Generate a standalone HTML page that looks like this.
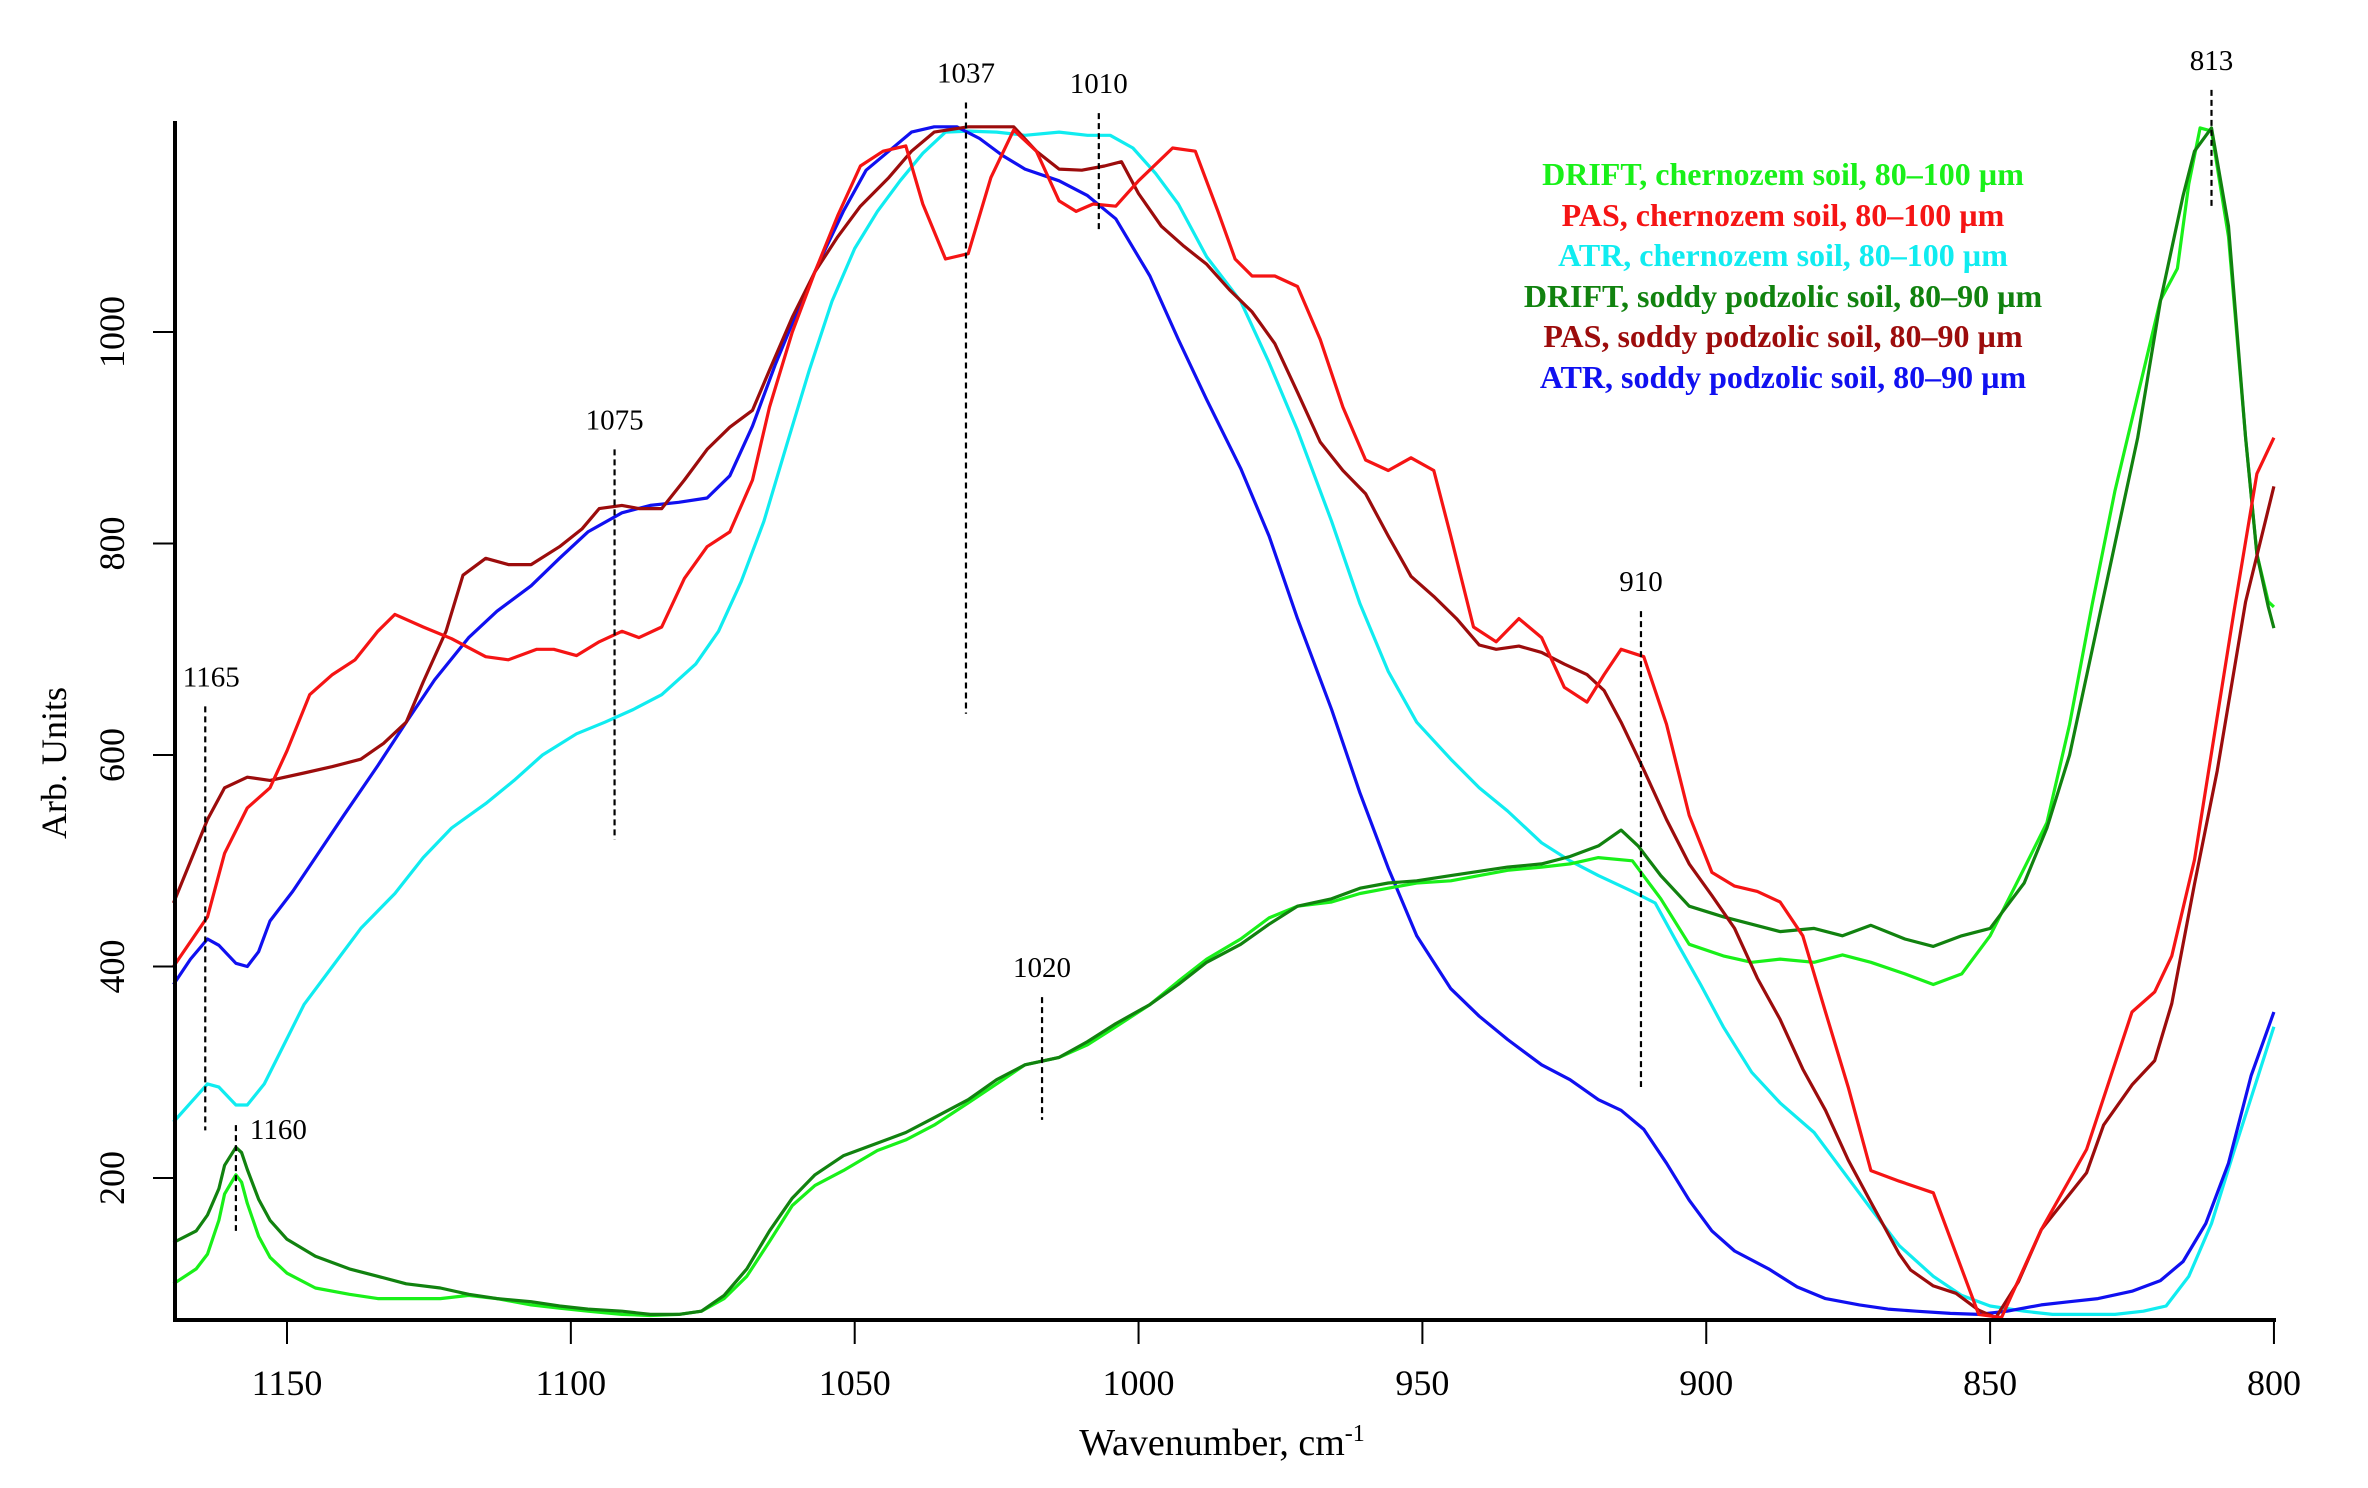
<!DOCTYPE html>
<html><head><meta charset="utf-8"><style>
html,body{margin:0;padding:0;background:#fff}
svg{display:block}
text{font-family:"Liberation Serif",serif}
</style></head><body>
<svg id="chart" width="2368" height="1488" viewBox="0 0 2368 1488" xmlns="http://www.w3.org/2000/svg">
<g id="plot"></g>
</svg>
<script>
const xTicks=[1150,1100,1050,1000,950,900,850,800];
const yTicks=[200,400,600,800,1000];
const seriesNames=["DRIFT, chernozem soil, 80–100 µm","PAS, chernozem soil, 80–100 µm","ATR, chernozem soil, 80–100 µm","DRIFT, soddy podzolic soil, 80–90 µm","PAS, soddy podzolic soil, 80–90 µm","ATR, soddy podzolic soil, 80–90 µm"];
const seriesColors=["#19f019","#f51414","#10ecf0","#11820f","#9c0c0c","#1010f0"];
const pasCWn=[1170,1164,1161,1157,1153,1150,1146,1142,1138,1134,1131,1126,1121,1115,1111,1106,1103,1099,1095,1091,1088,1084,1080,1076,1072,1068,1065,1061,1057,1053,1049,1045,1041,1038,1034,1030,1026,1022,1018,1014,1011,1008,1004,1000,994,990,986,983,980,976,972,968,964,960,956,952,948,945,941,937,933,929,925,921,918,915,911,907,903,899,895,891,887,883,879,875,871,866,860,852,848,841,833,825,821,818,814,807,803,800];
const pasCVal=[400,447,507,550,569,604,657,676,690,717,733,721,710,693,690,700,700,694,707,717,711,721,767,797,811,860,929,1000,1057,1110,1157,1171,1176,1121,1069,1074,1146,1191,1171,1124,1114,1121,1119,1143,1174,1171,1114,1069,1053,1053,1043,993,929,879,869,881,869,807,721,707,729,711,664,650,676,700,693,629,543,489,476,471,461,429,357,286,207,197,186,71,68,151,227,357,376,410,501,737,866,900];
const pasSWn=[1170,1164,1161,1157,1153,1147,1142,1137,1133,1129,1126,1122,1119,1115,1111,1107,1102,1098,1095,1091,1088,1084,1080,1076,1072,1068,1065,1061,1057,1053,1049,1044,1040,1036,1030,1025,1022,1018,1014,1010,1006,1003,1000,996,992,988,984,980,976,972,968,964,960,956,952,948,944,940,937,933,929,925,921,918,915,911,907,903,899,895,891,887,883,879,875,871,866,864,860,856,852,849,845,841,833,830,825,821,818,814,810,805,800];
const pasSVal=[460,539,569,579,576,583,589,596,611,631,669,717,770,786,780,780,797,814,833,836,833,833,860,889,910,926,964,1014,1057,1090,1119,1146,1171,1189,1194,1194,1194,1171,1154,1153,1157,1161,1131,1100,1081,1064,1040,1019,989,943,896,869,847,807,769,750,729,704,700,703,697,686,676,661,631,586,539,497,467,436,389,350,303,264,217,177,128,113,98,91,75,68,102,151,205,250,288,311,365,478,585,745,854];
const atrSWn=[1170,1167,1164,1162,1159,1157,1155,1153,1149,1145,1140,1134,1129,1124,1118,1113,1107,1102,1097,1091,1086,1081,1076,1072,1068,1064,1060,1056,1052,1048,1044,1040,1036,1032,1028,1024,1020,1014,1009,1004,998,993,988,982,977,972,966,961,956,951,945,940,935,929,924,919,915,911,907,903,899,895,889,884,879,873,868,863,857,852,847,841,836,831,825,820,816,812,808,804,800];
const atrSVal=[383,407,426,420,403,400,414,443,471,503,543,590,631,671,711,736,760,786,811,829,836,839,843,864,911,969,1021,1069,1114,1153,1171,1189,1194,1194,1183,1167,1154,1143,1129,1107,1053,993,936,871,807,729,643,564,493,429,379,353,331,307,293,274,264,246,214,179,150,131,114,97,86,80,76,74,72,71,74,80,83,86,93,103,121,157,214,297,357];
const atrCWn=[1170,1167,1164,1162,1159,1157,1154,1151,1147,1142,1137,1131,1126,1121,1115,1110,1105,1099,1094,1089,1084,1078,1074,1070,1066,1062,1058,1054,1050,1046,1042,1038,1034,1030,1025,1020,1014,1009,1005,1001,997,993,988,982,977,972,966,961,956,951,945,940,935,929,924,919,913,909,905,901,897,892,887,881,876,871,866,860,855,850,844,839,834,828,823,819,815,811,807,803,800];
const atrCVal=[253,271,289,286,269,269,289,321,364,400,436,469,503,531,554,576,600,620,631,643,657,686,717,764,821,893,964,1029,1079,1114,1143,1169,1189,1190,1189,1186,1189,1186,1186,1174,1150,1121,1071,1029,971,907,821,743,679,631,596,569,547,517,500,486,471,460,421,383,343,300,271,243,207,171,136,107,89,79,74,71,71,71,74,79,107,157,226,293,343];
const driftSWn=[1170,1166,1164,1162,1161,1159,1158,1157,1155,1153,1150,1145,1139,1134,1129,1123,1118,1113,1107,1102,1097,1091,1086,1081,1077,1073,1069,1065,1061,1057,1052,1046,1041,1036,1030,1025,1020,1014,1009,1004,998,993,988,982,977,972,966,961,956,951,945,940,935,929,924,919,915,912,908,903,897,892,887,881,876,871,865,860,855,850,844,840,836,832,828,824,820,816,814,811,808,805,803,801,800];
const driftSVal=[139,150,165,190,212,229,224,208,180,160,142,126,114,107,100,96,90,86,83,79,76,74,71,71,74,89,114,150,181,203,221,233,243,257,274,293,307,314,329,346,364,383,404,421,440,457,464,474,479,481,486,490,494,497,504,514,529,514,486,457,447,440,433,436,429,439,426,419,429,436,479,531,600,700,800,900,1029,1129,1171,1193,1100,900,790,740,720];
const driftCWn=[1170,1166,1164,1162,1161,1159,1158,1157,1155,1153,1150,1145,1139,1134,1129,1123,1118,1113,1107,1102,1097,1091,1086,1081,1077,1073,1069,1065,1061,1057,1052,1046,1041,1036,1030,1025,1020,1014,1009,1004,998,993,988,982,977,972,966,961,956,951,945,940,935,929,924,919,913,908,903,897,892,887,881,876,871,865,860,855,850,844,840,836,832,828,824,820,817,815,813,811,808,805,803,801,800];
const driftCVal=[100,114,128,160,185,203,196,176,145,125,110,96,90,86,86,86,89,86,80,77,74,71,70,71,74,86,107,140,174,193,207,226,236,250,271,289,307,314,326,343,364,386,407,426,446,457,461,469,474,479,481,486,491,494,497,503,500,464,421,410,404,407,404,411,404,393,383,393,429,493,536,629,743,850,940,1030,1060,1140,1193,1190,1090,900,790,745,740];
const annoLabels=["1037","1010","1075","1165","1160","1020","910","813"];
const annoWn=[1030.4,1007,1092.3,1164.4,1159,1017,911.5,811];
const annoTop=[1217,1207,889,646,250,371,736,1229];
const annoBot=[639,1097,520,245,150,255,286,1117];

const NS="http://www.w3.org/2000/svg";
const X0=287, XS=5.677, Y0=1178, YS=1.0575;
function sx(w){return X0+(1150-w)*XS;}
function sy(v){return Y0-(v-200)*YS;}
const g=document.getElementById('plot');
function mk(tag,attrs,parent){const e=document.createElementNS(NS,tag);for(const k in attrs)e.setAttribute(k,attrs[k]);(parent||g).appendChild(e);return e;}

const series=[[driftCWn,driftCVal],[pasCWn,pasCVal],[atrCWn,atrCVal],[driftSWn,driftSVal],[pasSWn,pasSVal],[atrSWn,atrSVal]];
const drawOrder=[2,5,0,3,4,1];
drawOrder.forEach(i=>{
  const [wn,val]=series[i];
  const d=wn.map((w,j)=>(j?'L':'M')+sx(w).toFixed(1)+','+sy(val[j]).toFixed(1)).join(' ');
  const p=mk('path',{d:d,fill:'none',stroke:seriesColors[i],'stroke-width':3.2,'stroke-linejoin':'round'});
  
  
});

annoLabels.forEach((t,i)=>{
  const x=sx(annoWn[i]);
  const l=mk('line',{x1:x,x2:x,y1:sy(annoTop[i]),y2:sy(annoBot[i]),stroke:'#000','stroke-width':2.2,'stroke-dasharray':'6,4'});
  
  
  let tx=x, anchor='middle', ty=sy(annoTop[i])-20;
  if(t==='1160'){tx=x+14;anchor='start';ty=sy(annoTop[i])+14;}
  if(t==='1165'){tx=x+6;}
  const e=mk('text',{x:tx,y:ty,'text-anchor':anchor,'font-size':29});
  e.textContent=t;
  
  
});

const ax=mk('line',{x1:173,x2:2276,y1:1320,y2:1320,stroke:'#000','stroke-width':4});


const ay=mk('line',{x1:175,x2:175,y1:121,y2:1322,stroke:'#000','stroke-width':4});


xTicks.forEach(t=>{
  const x=sx(t);
  const tk=mk('line',{x1:x,x2:x,y1:1320,y2:1344,stroke:'#000','stroke-width':2});
  
  
  const e=mk('text',{x:x,y:1395,'text-anchor':'middle','font-size':36});
  e.textContent=t;
  
  
});
yTicks.forEach(t=>{
  const y=sy(t);
  const tk=mk('line',{x1:153,x2:175,y1:y,y2:y,stroke:'#000','stroke-width':2});
  
  
  const e=mk('text',{x:0,y:0,'text-anchor':'middle','font-size':36,transform:'translate(124,'+y+') rotate(-90)'});
  e.textContent=t;
  
  
});
const xt=mk('text',{x:1222,y:1455,'text-anchor':'middle','font-size':38});
xt.innerHTML='Wavenumber, cm<tspan dy="-14" font-size="24">-1</tspan>';


const yt=mk('text',{x:0,y:0,'text-anchor':'middle','font-size':36,transform:'translate(66,763) rotate(-90)'});
yt.textContent='Arb. Units';



const legY=[185,226,266,307,347,388];
seriesNames.forEach((n,i)=>{
  const e=mk('text',{x:1783,y:legY[i],'text-anchor':'middle','font-size':32,'font-weight':'bold',fill:seriesColors[i]});
  e.textContent=n;
  
  
});
</script>
</body></html>
